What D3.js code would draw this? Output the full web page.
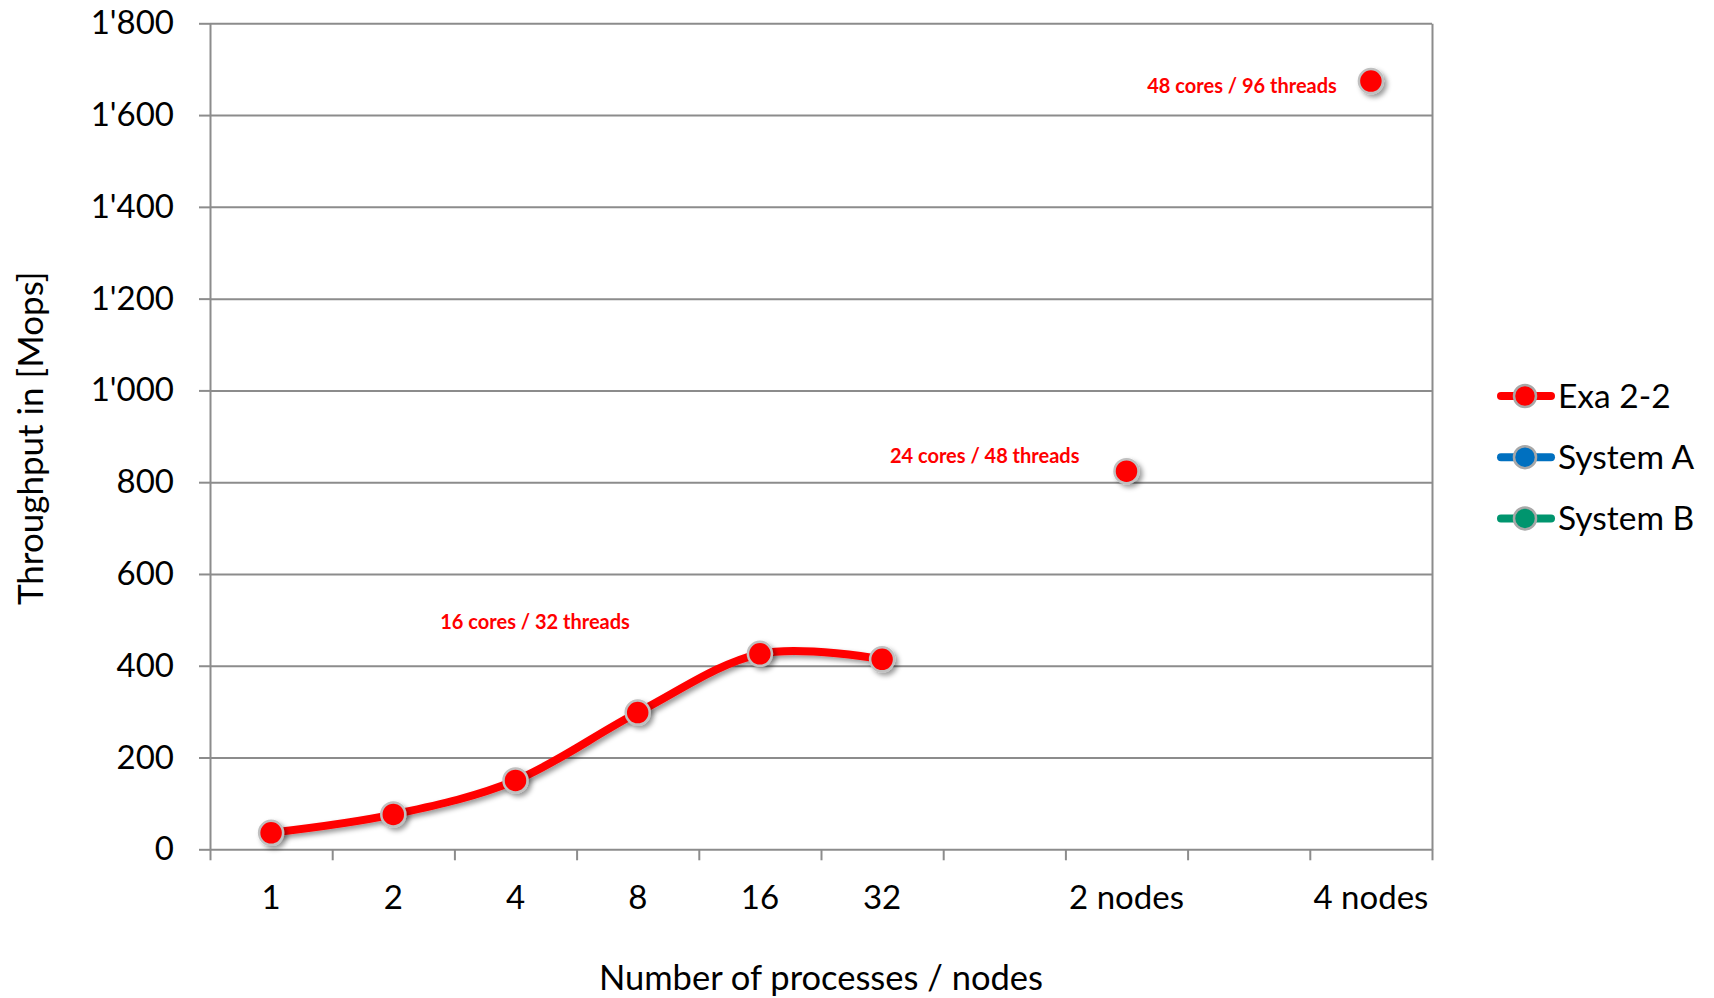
<!DOCTYPE html>
<html>
<head>
<meta charset="utf-8">
<script src="https://cdn.jsdelivr.net/npm/d3@7"></script>
<style>
  body { margin: 0; background: #fff; }
  text { font-family: Lato, "Open Sans", sans-serif; }
</style>
</head>
<body>
<div id="chart"></div>
<script>
/* Throughput of Exa 2-2 by number of processes / nodes */

const categories = ["1", "2", "4", "8", "16", "32", "", "2 nodes", "", "4 nodes"];
const exaValues = [36, 76, 150, 298, 426, 414, null, 824, null, 1674];
const yTicks = [0, 200, 400, 600, 800, 1000, 1200, 1400, 1600, 1800];
const seriesNames = ["Exa 2-2", "System A", "System B"];
const seriesColors = ["#ff0000", "#0070c0", "#00956e"];
const labelTexts = ["16 cores / 32 threads", "24 cores / 48 threads", "48 cores / 96 threads"];
const labelCategories = ["16", "2 nodes", "4 nodes"];

const width = 1714,
  height = 998,
  plotLeft = 210,
  plotRight = 1432,
  plotTop = 23.3,
  plotBottom = 849.3,
  gridColor = "#8c8c8c";

const fmt = d3.formatLocale({decimal: ".", thousands: "'", grouping: [3], currency: ["", ""]}).format(",");

const x = d3.scaleBand().domain(d3.range(categories.length)).range([plotLeft, plotRight]);
const xEdge = d3.scaleLinear().domain([0, categories.length]).range([plotLeft, plotRight]);
const y = d3.scaleLinear().domain([0, 1800]).range([plotBottom, plotTop]);

const svg = d3.select("#chart")
  .append("svg")
  .attr("width", width)
  .attr("height", height)
  .style("display", "block");

const defs = svg.append("defs");
defs.append("filter")
  .attr("id", "shadow")
  .attr("x", "-50%").attr("y", "-50%")
  .attr("width", "200%").attr("height", "200%")
  .append("feDropShadow")
  .attr("dx", 3).attr("dy", 3)
  .attr("stdDeviation", 2.5)
  .attr("flood-color", "#000")
  .attr("flood-opacity", 0.4);

// horizontal gridlines
svg.append("g")
  .attr("transform", `translate(${plotLeft},0)`)
  .call(d3.axisLeft(y).tickValues(yTicks.slice(1)).tickSize(-(plotRight - plotLeft)).tickFormat(""))
  .call(g => g.select(".domain").remove())
  .call(g => g.selectAll("line").attr("stroke", gridColor).attr("stroke-width", 2));

// right border of the plot area
svg.append("g")
  .attr("transform", `translate(${plotRight},0)`)
  .call(d3.axisRight(y).tickValues([]).tickSizeOuter(0))
  .call(g => g.select(".domain").attr("stroke", gridColor).attr("stroke-width", 2));

// y axis
svg.append("g")
  .attr("transform", `translate(${plotLeft},0)`)
  .call(d3.axisLeft(y).tickValues(yTicks).tickSize(11).tickPadding(25).tickSizeOuter(0).tickFormat(fmt))
  .call(g => g.selectAll("line, .domain").attr("stroke", gridColor).attr("stroke-width", 2))
  .call(g => g.selectAll("text").attr("font-size", 33).attr("fill", "#000"));

// x axis: ticks between categories
svg.append("g")
  .attr("transform", `translate(0,${plotBottom})`)
  .call(d3.axisBottom(xEdge).tickValues(d3.range(categories.length + 1)).tickSize(11).tickSizeOuter(0).tickFormat(""))
  .call(g => g.selectAll("line, .domain").attr("stroke", gridColor).attr("stroke-width", 2));

// x axis: category labels
svg.append("g")
  .attr("transform", `translate(0,${plotBottom})`)
  .call(d3.axisBottom(x).tickSize(0).tickPadding(36).tickFormat(i => categories[i]))
  .call(g => g.select(".domain").remove())
  .call(g => g.selectAll("text").attr("font-size", 33).attr("fill", "#000"));

// axis titles
svg.append("text")
  .attr("x", (plotLeft + plotRight) / 2)
  .attr("y", 990)
  .attr("text-anchor", "middle")
  .attr("font-size", 34.5)
  .text("Number of processes / nodes");

svg.append("text")
  .attr("transform", `translate(43,${(plotTop + plotBottom) / 2 + 2}) rotate(-90)`)
  .attr("text-anchor", "middle")
  .attr("font-size", 35)
  .text("Throughput in [Mops]");

const points = exaValues.map((v, i) => ({i, v}));
const cx = i => x(i) + x.bandwidth() / 2;

const line = d3.line()
  .defined(d => d.v != null)
  .x(d => cx(d.i))
  .y(d => y(d.v))
  .curve(d3.curveCatmullRom.alpha(0));

svg.append("path")
  .datum(points)
  .attr("fill", "none")
  .attr("stroke", seriesColors[0])
  .attr("stroke-width", 8)
  .attr("stroke-linecap", "round")
  .attr("stroke-linejoin", "round")
  .attr("filter", "url(#shadow)")
  .attr("d", line);

svg.append("g")
  .selectAll("circle")
  .data(points.filter(d => d.v != null))
  .join("circle")
  .attr("cx", d => cx(d.i))
  .attr("cy", d => y(d.v))
  .attr("r", 12)
  .attr("fill", seriesColors[0])
  .attr("stroke", "#c0c0c0")
  .attr("stroke-width", 2.5)
  .attr("filter", "url(#shadow)");

// data labels, placed to the left of the point they belong to
const labelOffsets = [[-130, -25], [-47, -8], [-34, 12]];
svg.append("g")
  .attr("font-size", 20)
  .attr("font-weight", "bold")
  .attr("fill", seriesColors[0])
  .attr("text-anchor", "end")
  .selectAll("text")
  .data(labelTexts)
  .join("text")
  .attr("x", (d, k) => {
    const i = categories.indexOf(labelCategories[k]);
    return cx(i) + labelOffsets[k][0];
  })
  .attr("y", (d, k) => {
    const i = categories.indexOf(labelCategories[k]);
    return y(exaValues[i]) + labelOffsets[k][1];
  })
  .text(d => d);

// legend
const legend = svg.append("g")
  .attr("transform", "translate(1497,396)")
  .selectAll("g")
  .data(seriesNames)
  .join("g")
  .attr("transform", (d, i) => `translate(0,${i * 61.2})`);

legend.append("line")
  .attr("x1", 4).attr("x2", 54)
  .attr("stroke", (d, i) => seriesColors[i])
  .attr("stroke-width", 8)
  .attr("stroke-linecap", "round");

legend.append("circle")
  .attr("cx", 28)
  .attr("r", 11)
  .attr("fill", (d, i) => seriesColors[i])
  .attr("stroke", "#a8a8a8")
  .attr("stroke-width", 2.5);

legend.append("text")
  .attr("x", 61)
  .attr("dy", "0.35em")
  .attr("font-size", 33.5)
  .text(d => d);
</script>
</body>
</html>
